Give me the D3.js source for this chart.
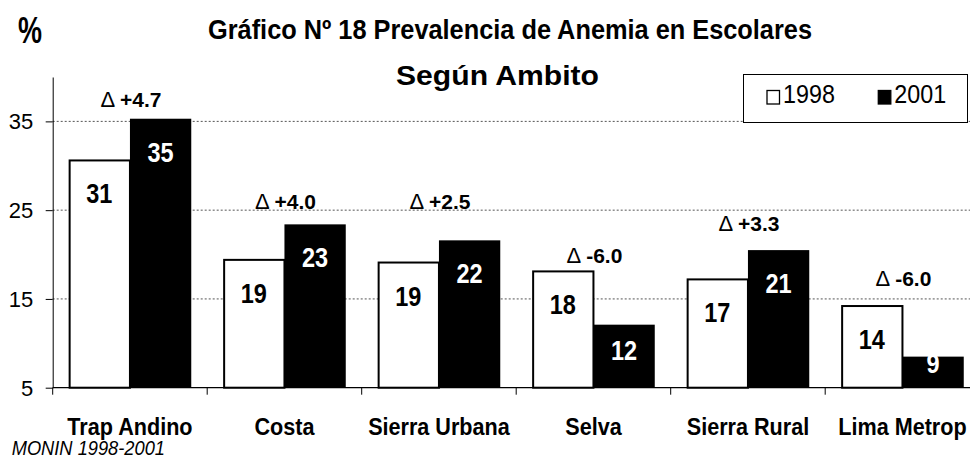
<!DOCTYPE html>
<html>
<head>
<meta charset="utf-8">
<script src="https://cdn.jsdelivr.net/npm/d3@7/dist/d3.min.js"></script>
<style>
  body { margin: 0; background: #fff; }
  text { font-family: "Liberation Sans", Arial, sans-serif; fill: #000; }
</style>
</head>
<body>
<svg width="970" height="468" id="mainsvg"></svg>
<script>
const categories = ["Trap Andino", "Costa", "Sierra Urbana", "Selva", "Sierra Rural", "Lima Metrop"];
const series = ["1998", "2001"];
const values1998 = [30.6, 19.4, 19.1, 18.1, 17.2, 14.2];
const values2001 = [35.3, 23.4, 21.6, 12.1, 20.5, 8.5];
const labels1998 = ["31", "19", "19", "18", "17", "14"];
const labels2001 = ["35", "23", "22", "12", "21", "9"];
const deltas = ["+4.7", "+4.0", "+2.5", "-6.0", "+3.3", "-6.0"];
const deltaLevel = [36.6, 25.1, 25.1, 19.1, 22.7, 16.5]; // baseline of the delta note, in % units
const yTicks = [5, 15, 25, 35];

const svg = d3.select("#mainsvg");
const width = +svg.attr("width");
const margin = { top: 77, left: 52.7, bottom: 387.7 };

const y = d3.scaleLinear().domain([5, 40]).range([margin.bottom, margin.top]);
const x = d3.scaleBand().domain(categories).range([margin.left, 979.7]);
const xs = d3.scaleBand().domain(series).range([0, x.bandwidth()]).paddingOuter(0.26);

// narrow text: Arial Narrow is not installed, so squeeze Liberation Sans
const sq = (px, py, sx) => `translate(${px},${py}) scale(${sx},1)`;

// dotted grid
svg.append("g").selectAll("line")
  .data(yTicks.filter(d => d > 5))
  .join("line")
  .attr("x1", margin.left).attr("x2", width)
  .attr("y1", d => y(d)).attr("y2", d => y(d))
  .attr("stroke", "#555").attr("stroke-width", 1)
  .attr("stroke-dasharray", "2,2");

const rows = categories.map((c, i) => ({
  cat: c,
  bars: [
    { s: "1998", v: values1998[i], lab: labels1998[i] },
    { s: "2001", v: values2001[i], lab: labels2001[i] }
  ],
  delta: deltas[i],
  level: deltaLevel[i]
}));

const grp = svg.append("g").selectAll("g")
  .data(rows).join("g")
  .attr("transform", d => `translate(${x(d.cat)},0)`);

grp.selectAll("rect")
  .data(d => d.bars).join("rect")
  .attr("x", d => xs(d.s) + (d.s === "1998" ? 1 : 0))
  .attr("width", d => xs.bandwidth() - (d.s === "1998" ? 1 : 0))
  .attr("y", d => y(d.v))
  .attr("height", d => y(5) - y(d.v))
  .attr("fill", d => d.s === "1998" ? "#fff" : "#000")
  .attr("stroke", "#000")
  .attr("stroke-width", d => d.s === "1998" ? 2 : 0);

// value labels, inside the top of each bar
grp.selectAll("text.val")
  .data(d => d.bars).join("text")
  .attr("class", "val")
  .attr("transform", d => {
    const h = y(5) - y(d.v);
    return sq(xs(d.s) + xs.bandwidth() / 2, y(d.v) + Math.min(43, Math.max(16, h - 28)), 0.84);
  })
  .attr("text-anchor", "middle")
  .attr("font-size", 28)
  .attr("font-weight", "bold")
  .style("fill", d => d.s === "1998" ? "#000" : "#fff")
  .text(d => d.lab);

// delta notes
const dl = grp.append("text")
  .attr("x", x.bandwidth() / 2 + 1)
  .attr("y", d => y(d.level))
  .attr("text-anchor", "middle")
  .attr("font-size", 21);
dl.append("tspan").attr("font-size", 22).text("\u0394 ");
dl.append("tspan").attr("font-weight", "bold").text(d => d.delta);

// y axis
const yAxis = d3.axisLeft(y).tickValues(yTicks).tickSize(7).tickSizeOuter(0).tickPadding(12);
const yg = svg.append("g").attr("transform", `translate(${margin.left},0)`).call(yAxis);
yg.select(".domain").attr("stroke", "#000");
yg.selectAll(".tick line").attr("stroke", "#000");
yg.selectAll(".tick text")
  .attr("x", 0).attr("dy", null)
  .attr("transform", sq(-19.4, 7.3, 1))
  .attr("font-size", 22).attr("font-family", null);

// x axis with ticks between the categories
svg.append("line")
  .attr("x1", margin.left).attr("x2", width)
  .attr("y1", y(5)).attr("y2", y(5))
  .attr("stroke", "#000").attr("stroke-width", 1.2);
svg.append("g").selectAll("line")
  .data(categories.map(c => x(c)))
  .join("line")
  .attr("x1", d => d).attr("x2", d => d)
  .attr("y1", y(5)).attr("y2", y(5) + 7)
  .attr("stroke", "#000");
const xAxis = d3.axisBottom(x).tickSize(0);
const xg = svg.append("g").attr("transform", `translate(0,${y(5)})`).call(xAxis);
xg.select(".domain").remove();
xg.selectAll(".tick text")
  .attr("y", 0).attr("dy", null)
  .attr("transform", sq(0, 47.3, 0.9))
  .attr("font-size", 24).attr("font-weight", "bold").attr("font-family", null);

// titles
svg.append("text").attr("x", 208).attr("y", 39)
  .attr("font-size", 28).attr("font-weight", "bold")
  .attr("textLength", 604).attr("lengthAdjust", "spacingAndGlyphs")
  .text("Gráfico Nº 18  Prevalencia de Anemia en Escolares");
svg.append("text").attr("x", 396).attr("y", 85)
  .attr("font-size", 28).attr("font-weight", "bold")
  .attr("textLength", 203).attr("lengthAdjust", "spacingAndGlyphs")
  .text("Según Ambito");
svg.append("text").attr("transform", sq(18, 43, 0.75))
  .attr("font-size", 36).attr("font-weight", "bold").text("%");
svg.append("text").attr("transform", sq(11.7, 455, 0.87))
  .attr("font-size", 21).attr("font-style", "italic").text("MONIN  1998-2001");

// legend
const lg = svg.append("g");
lg.append("rect").attr("x", 743.5).attr("y", 74.5).attr("width", 224).attr("height", 48)
  .attr("fill", "#fff").attr("stroke", "#000");
const li = lg.selectAll("g").data(series).join("g")
  .attr("transform", (d, i) => `translate(${767 + i * 111.3},90.5)`);
li.append("rect").attr("width", 12.5).attr("height", 13.5)
  .attr("fill", d => d === "1998" ? "#fff" : "#000")
  .attr("stroke", "#000").attr("stroke-width", 1.3);
li.append("text").attr("transform", sq(16, 12.8, 0.88))
  .attr("font-size", 26.5).text(d => d);
</script>
</body>
</html>
